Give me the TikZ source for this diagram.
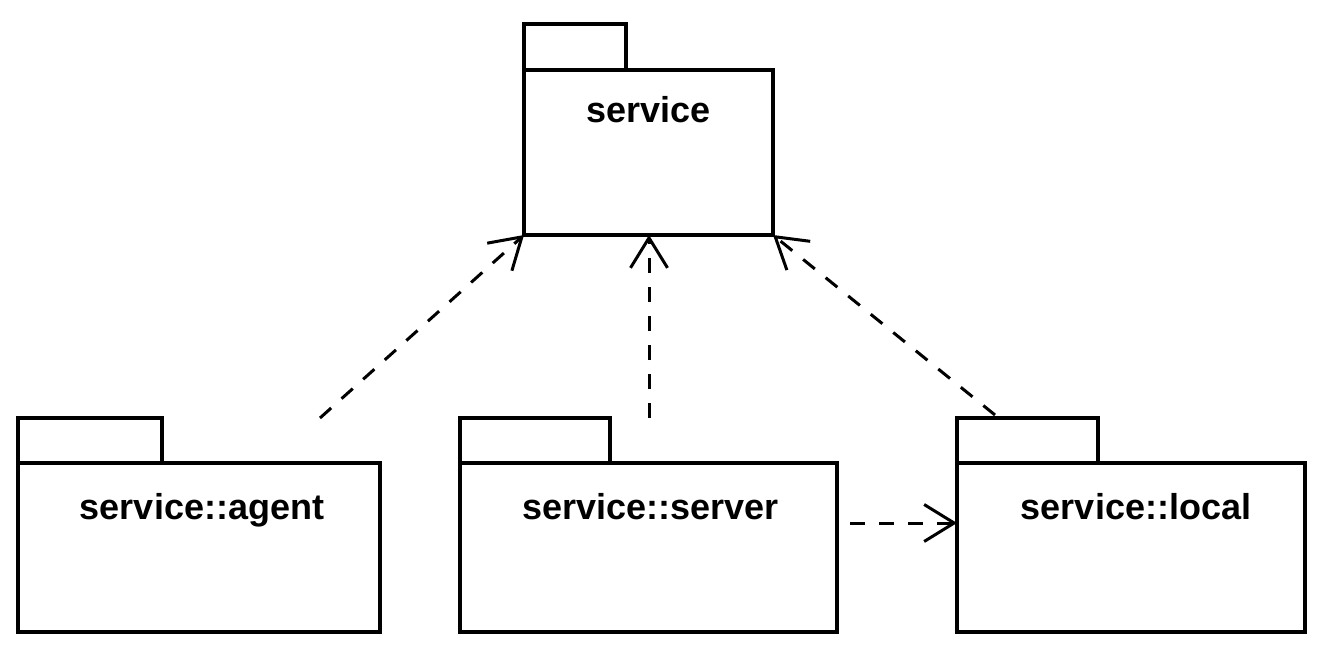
\documentclass[tikz,border=0pt]{standalone}
\usepackage{fontspec}
\newfontfamily\pkgfont{Liberation Sans}
\usetikzlibrary{arrows.meta,calc}
\tikzset{
  pkgbox/.style={draw=black, line width=4.5pt, fill=white, rectangle,
    inner sep=0pt, outer sep=0pt, anchor=north west},
  pkglabel/.style={anchor=base, inner sep=0pt,
    font=\pkgfont\bfseries\fontsize{36}{40}\selectfont},
  dep/.style={draw=black, line width=3pt, dash pattern=on 15pt off 14pt,
    -{Straight Barb[length=30pt,width=37pt]}},
}
\begin{document}
\begin{tikzpicture}[x=1pt,y=-1pt]
  \useasboundingbox (0,0) rectangle (1321,650);

  % package "service"
  \node[pkgbox, minimum width=102pt, minimum height=46pt] (svctab) at (524,24) {};
  \node[pkgbox, minimum width=249pt, minimum height=165pt] (svc) at (524,70) {};
  \node[pkglabel] (svclbl) at ($(svc.north)+(0,52)$) {service};

  % package "service::agent"
  \node[pkgbox, minimum width=144pt, minimum height=45pt] (agttab) at (18,418) {};
  \node[pkgbox, minimum width=362pt, minimum height=169pt] (agt) at (18,463) {};
  \node[pkglabel] (agtlbl) at ($(agt.north)+(3,56)$) {service::agent};

  % package "service::server"
  \node[pkgbox, minimum width=150pt, minimum height=45pt] (srvtab) at (460,418) {};
  \node[pkgbox, minimum width=377pt, minimum height=169pt] (srv) at (460,463) {};
  \node[pkglabel] (srvlbl) at ($(srv.north)+(2,56)$) {service::server};

  % package "service::local"
  \node[pkgbox, minimum width=141pt, minimum height=45pt] (loctab) at (957,418) {};
  \node[pkgbox, minimum width=348pt, minimum height=169pt] (loc) at (957,463) {};
  \node[pkglabel] (loclbl) at ($(loc.north)+(5,56)$) {service::local};

  % free ends of the dependency lines
  \coordinate (agtdep) at (320,418);
  \coordinate (srvdep) at (649,418);
  \coordinate (locdep) at (995,415);
  \coordinate (srvout) at (850,523);

  % dependencies
  \draw[dep] (agtdep) -- (svc.south west);
  \draw[dep] (srvdep) -- (svc.south -| srvdep);
  \draw[dep] (locdep) -- (svc.south east);
  \draw[dep] (srvout) -- (srvout -| loc.west);
\end{tikzpicture}
\end{document}
